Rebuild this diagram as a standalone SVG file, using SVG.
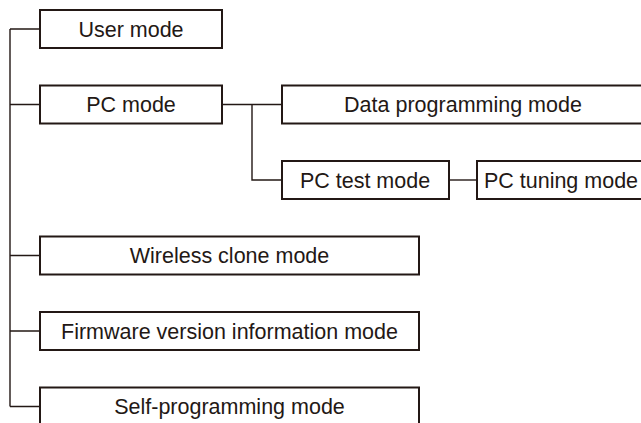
<svg xmlns="http://www.w3.org/2000/svg" width="641" height="423" viewBox="0 0 641 423">
<style>
.box{fill:#fff;stroke:#231815;stroke-width:2}
.c{fill:none;stroke:#231815;stroke-width:1.4}
text{font-family:"Liberation Sans",Arial,sans-serif;font-size:21.5px;fill:#231815;text-anchor:middle}
</style>
<rect width="641" height="423" fill="#fff"/>
<g id="connectors">
<path class="c" d="M10,29 V406.5 M10,29 H40 M10,104.5 H40 M10,255.5 H40 M10,331 H40 M10,406.5 H40"/>
<path class="c" d="M222,104.5 H282 M252,104.5 V180 H282"/>
<path class="c" d="M449,180 H477"/>
</g>
<g id="user-mode"><rect class="box" x="40" y="10" width="182" height="38"/><text x="131" y="36.7">User mode</text></g>
<g id="pc-mode"><rect class="box" x="40" y="85.5" width="182" height="38"/><text x="131" y="112.2">PC mode</text></g>
<g id="data-programming-mode"><rect class="box" x="282" y="85.5" width="364" height="38"/><text x="463" y="112.2">Data programming mode</text></g>
<g id="pc-test-mode"><rect class="box" x="282" y="161" width="167" height="38"/><text x="365" y="187.7">PC test mode</text></g>
<g id="pc-tuning-mode"><rect class="box" x="477" y="161" width="170" height="38"/><text x="561" y="187.7">PC tuning mode</text></g>
<g id="wireless-clone-mode"><rect class="box" x="40" y="236.5" width="379" height="38"/><text x="229.5" y="263.2">Wireless clone mode</text></g>
<g id="firmware-version-information-mode"><rect class="box" x="40" y="312" width="379" height="38"/><text x="229.5" y="338.7">Firmware version information mode</text></g>
<g id="self-programming-mode"><rect class="box" x="40" y="387.5" width="379" height="40"/><text x="229.5" y="414.2">Self-programming mode</text></g>
</svg>
